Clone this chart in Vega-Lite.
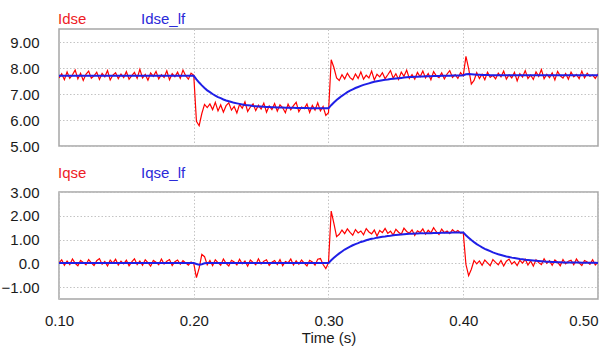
{
"$schema":"https://vega.github.io/schema/vega-lite/v6.json",
"padding":{"left":0,"top":3,"right":0,"bottom":0},
"config":{"view":{"stroke":"#a6a6a6","strokeWidth":1.5},
"axis":{"labelFont":"Liberation Sans","labelFontSize":15,"labelColor":"#1a1a1a","ticks":false,"domain":false,"gridColor":"#c4c4c4","gridDash":[1.5,2],"gridWidth":1,"titleFont":"Liberation Sans","titleFontSize":15,"titleFontWeight":"normal","titleColor":"#1a1a1a"},
"legend":{"orient":"none","legendX":-16,"legendY":-25,"direction":"horizontal","title":null,"symbolSize":0,"symbolStrokeWidth":0,"symbolOpacity":0,"labelOffset":0,"columnPadding":39,"labelFontSize":15,"labelFont":"Liberation Sans","labelBaseline":"top"},
"concat":{"spacing":2}},
"datasets":{"w":[
{"t":0.100,"Idse":7.62,"Idse_lf":7.70,"Iqse":0.02,"Iqse_lf":0.01},
{"t":0.102,"Idse":7.78,"Idse_lf":7.70,"Iqse":0.15,"Iqse_lf":0.01},
{"t":0.104,"Idse":7.55,"Idse_lf":7.70,"Iqse":-0.08,"Iqse_lf":0.01},
{"t":0.106,"Idse":7.85,"Idse_lf":7.70,"Iqse":0.10,"Iqse_lf":0.01},
{"t":0.108,"Idse":7.60,"Idse_lf":7.70,"Iqse":-0.05,"Iqse_lf":0.01},
{"t":0.110,"Idse":7.74,"Idse_lf":7.70,"Iqse":0.18,"Iqse_lf":0.01},
{"t":0.112,"Idse":7.92,"Idse_lf":7.70,"Iqse":0.00,"Iqse_lf":0.01},
{"t":0.114,"Idse":7.58,"Idse_lf":7.70,"Iqse":-0.10,"Iqse_lf":0.01},
{"t":0.116,"Idse":7.80,"Idse_lf":7.70,"Iqse":0.12,"Iqse_lf":0.01},
{"t":0.118,"Idse":7.52,"Idse_lf":7.70,"Iqse":0.04,"Iqse_lf":0.01},
{"t":0.120,"Idse":7.76,"Idse_lf":7.70,"Iqse":-0.06,"Iqse_lf":0.01},
{"t":0.122,"Idse":7.88,"Idse_lf":7.70,"Iqse":0.16,"Iqse_lf":0.01},
{"t":0.124,"Idse":7.61,"Idse_lf":7.70,"Iqse":0.02,"Iqse_lf":0.01},
{"t":0.126,"Idse":7.70,"Idse_lf":7.70,"Iqse":-0.09,"Iqse_lf":0.01},
{"t":0.128,"Idse":7.84,"Idse_lf":7.70,"Iqse":0.11,"Iqse_lf":0.01},
{"t":0.130,"Idse":7.56,"Idse_lf":7.70,"Iqse":0.20,"Iqse_lf":0.01},
{"t":0.132,"Idse":7.79,"Idse_lf":7.70,"Iqse":-0.04,"Iqse_lf":0.01},
{"t":0.134,"Idse":7.66,"Idse_lf":7.70,"Iqse":0.08,"Iqse_lf":0.01},
{"t":0.136,"Idse":7.90,"Idse_lf":7.70,"Iqse":-0.11,"Iqse_lf":0.01},
{"t":0.138,"Idse":7.54,"Idse_lf":7.70,"Iqse":0.14,"Iqse_lf":0.01},
{"t":0.140,"Idse":7.73,"Idse_lf":7.70,"Iqse":0.01,"Iqse_lf":0.01},
{"t":0.142,"Idse":7.82,"Idse_lf":7.70,"Iqse":0.17,"Iqse_lf":0.01},
{"t":0.144,"Idse":7.59,"Idse_lf":7.70,"Iqse":-0.07,"Iqse_lf":0.01},
{"t":0.146,"Idse":7.77,"Idse_lf":7.70,"Iqse":0.09,"Iqse_lf":0.01},
{"t":0.148,"Idse":7.63,"Idse_lf":7.70,"Iqse":-0.02,"Iqse_lf":0.01},
{"t":0.150,"Idse":7.86,"Idse_lf":7.70,"Iqse":0.13,"Iqse_lf":0.01},
{"t":0.152,"Idse":7.57,"Idse_lf":7.70,"Iqse":-0.10,"Iqse_lf":0.01},
{"t":0.154,"Idse":7.71,"Idse_lf":7.70,"Iqse":0.06,"Iqse_lf":0.01},
{"t":0.156,"Idse":7.83,"Idse_lf":7.70,"Iqse":0.19,"Iqse_lf":0.01},
{"t":0.158,"Idse":7.60,"Idse_lf":7.70,"Iqse":-0.05,"Iqse_lf":0.01},
{"t":0.160,"Idse":7.95,"Idse_lf":7.70,"Iqse":0.10,"Iqse_lf":0.01},
{"t":0.162,"Idse":7.62,"Idse_lf":7.70,"Iqse":-0.08,"Iqse_lf":0.01},
{"t":0.164,"Idse":7.75,"Idse_lf":7.70,"Iqse":0.15,"Iqse_lf":0.01},
{"t":0.166,"Idse":7.53,"Idse_lf":7.70,"Iqse":0.03,"Iqse_lf":0.01},
{"t":0.168,"Idse":7.81,"Idse_lf":7.70,"Iqse":-0.12,"Iqse_lf":0.01},
{"t":0.170,"Idse":7.68,"Idse_lf":7.70,"Iqse":0.12,"Iqse_lf":0.01},
{"t":0.172,"Idse":7.87,"Idse_lf":7.70,"Iqse":0.05,"Iqse_lf":0.01},
{"t":0.174,"Idse":7.58,"Idse_lf":7.70,"Iqse":-0.06,"Iqse_lf":0.01},
{"t":0.176,"Idse":7.74,"Idse_lf":7.70,"Iqse":0.18,"Iqse_lf":0.01},
{"t":0.178,"Idse":7.64,"Idse_lf":7.70,"Iqse":-0.03,"Iqse_lf":0.01},
{"t":0.180,"Idse":7.89,"Idse_lf":7.70,"Iqse":0.09,"Iqse_lf":0.01},
{"t":0.182,"Idse":7.55,"Idse_lf":7.70,"Iqse":0.16,"Iqse_lf":0.01},
{"t":0.184,"Idse":7.78,"Idse_lf":7.70,"Iqse":-0.09,"Iqse_lf":0.01},
{"t":0.186,"Idse":7.66,"Idse_lf":7.70,"Iqse":0.07,"Iqse_lf":0.01},
{"t":0.188,"Idse":7.84,"Idse_lf":7.70,"Iqse":0.14,"Iqse_lf":0.01},
{"t":0.190,"Idse":7.60,"Idse_lf":7.70,"Iqse":-0.04,"Iqse_lf":0.01},
{"t":0.192,"Idse":7.92,"Idse_lf":7.70,"Iqse":0.11,"Iqse_lf":0.01},
{"t":0.194,"Idse":7.70,"Idse_lf":7.70,"Iqse":0.02,"Iqse_lf":0.01},
{"t":0.196,"Idse":7.57,"Idse_lf":7.70,"Iqse":-0.08,"Iqse_lf":0.01},
{"t":0.198,"Idse":7.80,"Idse_lf":7.70,"Iqse":0.06,"Iqse_lf":0.01},
{"t":0.200,"Idse":7.72,"Idse_lf":7.70,"Iqse":0.00,"Iqse_lf":0.01},
{"t":0.202,"Idse":5.95,"Idse_lf":7.56,"Iqse":-0.60,"Iqse_lf":-0.03},
{"t":0.204,"Idse":5.78,"Idse_lf":7.44,"Iqse":-0.20,"Iqse_lf":-0.06},
{"t":0.206,"Idse":6.25,"Idse_lf":7.33,"Iqse":0.38,"Iqse_lf":-0.04},
{"t":0.208,"Idse":6.60,"Idse_lf":7.23,"Iqse":0.28,"Iqse_lf":0.00},
{"t":0.210,"Idse":6.48,"Idse_lf":7.14,"Iqse":-0.06,"Iqse_lf":0.01},
{"t":0.212,"Idse":6.62,"Idse_lf":7.07,"Iqse":0.12,"Iqse_lf":0.01},
{"t":0.214,"Idse":6.40,"Idse_lf":7.00,"Iqse":-0.10,"Iqse_lf":0.01},
{"t":0.216,"Idse":6.68,"Idse_lf":6.94,"Iqse":0.15,"Iqse_lf":0.01},
{"t":0.218,"Idse":6.35,"Idse_lf":6.88,"Iqse":0.03,"Iqse_lf":0.01},
{"t":0.220,"Idse":6.58,"Idse_lf":6.84,"Iqse":-0.08,"Iqse_lf":0.01},
{"t":0.222,"Idse":6.30,"Idse_lf":6.79,"Iqse":0.18,"Iqse_lf":0.01},
{"t":0.224,"Idse":6.55,"Idse_lf":6.75,"Iqse":0.00,"Iqse_lf":0.01},
{"t":0.226,"Idse":6.66,"Idse_lf":6.72,"Iqse":-0.11,"Iqse_lf":0.01},
{"t":0.228,"Idse":6.38,"Idse_lf":6.69,"Iqse":0.13,"Iqse_lf":0.01},
{"t":0.230,"Idse":6.52,"Idse_lf":6.66,"Iqse":0.06,"Iqse_lf":0.01},
{"t":0.232,"Idse":6.27,"Idse_lf":6.64,"Iqse":-0.07,"Iqse_lf":0.01},
{"t":0.234,"Idse":6.60,"Idse_lf":6.62,"Iqse":0.17,"Iqse_lf":0.01},
{"t":0.236,"Idse":6.45,"Idse_lf":6.60,"Iqse":-0.02,"Iqse_lf":0.01},
{"t":0.238,"Idse":6.70,"Idse_lf":6.58,"Iqse":0.10,"Iqse_lf":0.01},
{"t":0.240,"Idse":6.33,"Idse_lf":6.57,"Iqse":-0.12,"Iqse_lf":0.01},
{"t":0.242,"Idse":6.50,"Idse_lf":6.56,"Iqse":0.14,"Iqse_lf":0.01},
{"t":0.244,"Idse":6.62,"Idse_lf":6.54,"Iqse":0.04,"Iqse_lf":0.01},
{"t":0.246,"Idse":6.36,"Idse_lf":6.53,"Iqse":-0.06,"Iqse_lf":0.01},
{"t":0.248,"Idse":6.57,"Idse_lf":6.52,"Iqse":0.19,"Iqse_lf":0.01},
{"t":0.250,"Idse":6.42,"Idse_lf":6.52,"Iqse":-0.03,"Iqse_lf":0.01},
{"t":0.252,"Idse":6.65,"Idse_lf":6.51,"Iqse":0.09,"Iqse_lf":0.01},
{"t":0.254,"Idse":6.30,"Idse_lf":6.50,"Iqse":0.15,"Iqse_lf":0.01},
{"t":0.256,"Idse":6.54,"Idse_lf":6.50,"Iqse":-0.09,"Iqse_lf":0.01},
{"t":0.258,"Idse":6.40,"Idse_lf":6.49,"Iqse":0.05,"Iqse_lf":0.01},
{"t":0.260,"Idse":6.63,"Idse_lf":6.49,"Iqse":0.12,"Iqse_lf":0.01},
{"t":0.262,"Idse":6.34,"Idse_lf":6.48,"Iqse":-0.05,"Iqse_lf":0.01},
{"t":0.264,"Idse":6.58,"Idse_lf":6.48,"Iqse":0.16,"Iqse_lf":0.01},
{"t":0.266,"Idse":6.47,"Idse_lf":6.48,"Iqse":-0.10,"Iqse_lf":0.01},
{"t":0.268,"Idse":6.28,"Idse_lf":6.47,"Iqse":0.08,"Iqse_lf":0.01},
{"t":0.270,"Idse":6.61,"Idse_lf":6.47,"Iqse":0.02,"Iqse_lf":0.01},
{"t":0.272,"Idse":6.39,"Idse_lf":6.47,"Iqse":0.18,"Iqse_lf":0.01},
{"t":0.274,"Idse":6.55,"Idse_lf":6.47,"Iqse":-0.07,"Iqse_lf":0.01},
{"t":0.276,"Idse":6.68,"Idse_lf":6.46,"Iqse":0.11,"Iqse_lf":0.01},
{"t":0.278,"Idse":6.32,"Idse_lf":6.46,"Iqse":-0.04,"Iqse_lf":0.01},
{"t":0.280,"Idse":6.50,"Idse_lf":6.46,"Iqse":0.14,"Iqse_lf":0.01},
{"t":0.282,"Idse":6.44,"Idse_lf":6.46,"Iqse":0.01,"Iqse_lf":0.01},
{"t":0.284,"Idse":6.62,"Idse_lf":6.46,"Iqse":-0.11,"Iqse_lf":0.01},
{"t":0.286,"Idse":6.29,"Idse_lf":6.45,"Iqse":0.13,"Iqse_lf":0.01},
{"t":0.288,"Idse":6.56,"Idse_lf":6.45,"Iqse":0.06,"Iqse_lf":0.01},
{"t":0.290,"Idse":6.38,"Idse_lf":6.45,"Iqse":-0.08,"Iqse_lf":0.01},
{"t":0.292,"Idse":6.66,"Idse_lf":6.45,"Iqse":0.17,"Iqse_lf":0.01},
{"t":0.294,"Idse":6.35,"Idse_lf":6.45,"Iqse":0.20,"Iqse_lf":0.01},
{"t":0.296,"Idse":6.52,"Idse_lf":6.45,"Iqse":-0.05,"Iqse_lf":0.01},
{"t":0.298,"Idse":6.18,"Idse_lf":6.45,"Iqse":-0.22,"Iqse_lf":0.01},
{"t":0.300,"Idse":6.28,"Idse_lf":6.45,"Iqse":0.02,"Iqse_lf":0.01},
{"t":0.302,"Idse":8.32,"Idse_lf":6.57,"Iqse":2.20,"Iqse_lf":0.13},
{"t":0.304,"Idse":8.02,"Idse_lf":6.67,"Iqse":1.68,"Iqse_lf":0.23},
{"t":0.306,"Idse":7.62,"Idse_lf":6.77,"Iqse":1.12,"Iqse_lf":0.33},
{"t":0.308,"Idse":7.52,"Idse_lf":6.85,"Iqse":1.22,"Iqse_lf":0.42},
{"t":0.310,"Idse":7.74,"Idse_lf":6.93,"Iqse":1.40,"Iqse_lf":0.50},
{"t":0.312,"Idse":7.58,"Idse_lf":7.00,"Iqse":1.25,"Iqse_lf":0.58},
{"t":0.314,"Idse":7.80,"Idse_lf":7.07,"Iqse":1.45,"Iqse_lf":0.64},
{"t":0.316,"Idse":7.63,"Idse_lf":7.13,"Iqse":1.30,"Iqse_lf":0.70},
{"t":0.318,"Idse":7.55,"Idse_lf":7.18,"Iqse":1.18,"Iqse_lf":0.76},
{"t":0.320,"Idse":7.77,"Idse_lf":7.23,"Iqse":1.42,"Iqse_lf":0.81},
{"t":0.322,"Idse":7.60,"Idse_lf":7.27,"Iqse":1.28,"Iqse_lf":0.85},
{"t":0.324,"Idse":7.85,"Idse_lf":7.31,"Iqse":1.36,"Iqse_lf":0.90},
{"t":0.326,"Idse":7.57,"Idse_lf":7.35,"Iqse":1.20,"Iqse_lf":0.93},
{"t":0.328,"Idse":7.72,"Idse_lf":7.38,"Iqse":1.46,"Iqse_lf":0.97},
{"t":0.330,"Idse":7.62,"Idse_lf":7.41,"Iqse":1.32,"Iqse_lf":1.00},
{"t":0.332,"Idse":7.88,"Idse_lf":7.44,"Iqse":1.24,"Iqse_lf":1.03},
{"t":0.334,"Idse":7.54,"Idse_lf":7.47,"Iqse":1.40,"Iqse_lf":1.05},
{"t":0.336,"Idse":7.76,"Idse_lf":7.49,"Iqse":1.15,"Iqse_lf":1.08},
{"t":0.338,"Idse":7.66,"Idse_lf":7.51,"Iqse":1.38,"Iqse_lf":1.10},
{"t":0.340,"Idse":7.82,"Idse_lf":7.53,"Iqse":1.29,"Iqse_lf":1.12},
{"t":0.342,"Idse":7.59,"Idse_lf":7.55,"Iqse":1.47,"Iqse_lf":1.13},
{"t":0.344,"Idse":7.74,"Idse_lf":7.56,"Iqse":1.26,"Iqse_lf":1.15},
{"t":0.346,"Idse":7.90,"Idse_lf":7.58,"Iqse":1.35,"Iqse_lf":1.16},
{"t":0.348,"Idse":7.61,"Idse_lf":7.59,"Iqse":1.19,"Iqse_lf":1.18},
{"t":0.350,"Idse":7.78,"Idse_lf":7.60,"Iqse":1.43,"Iqse_lf":1.19},
{"t":0.352,"Idse":7.56,"Idse_lf":7.61,"Iqse":1.31,"Iqse_lf":1.20},
{"t":0.354,"Idse":7.84,"Idse_lf":7.62,"Iqse":1.22,"Iqse_lf":1.21},
{"t":0.356,"Idse":7.68,"Idse_lf":7.63,"Iqse":1.48,"Iqse_lf":1.22},
{"t":0.358,"Idse":7.92,"Idse_lf":7.64,"Iqse":1.34,"Iqse_lf":1.23},
{"t":0.360,"Idse":7.60,"Idse_lf":7.65,"Iqse":1.27,"Iqse_lf":1.24},
{"t":0.362,"Idse":7.75,"Idse_lf":7.65,"Iqse":1.41,"Iqse_lf":1.24},
{"t":0.364,"Idse":7.57,"Idse_lf":7.66,"Iqse":1.17,"Iqse_lf":1.25},
{"t":0.366,"Idse":7.83,"Idse_lf":7.66,"Iqse":1.37,"Iqse_lf":1.25},
{"t":0.368,"Idse":7.66,"Idse_lf":7.67,"Iqse":1.30,"Iqse_lf":1.26},
{"t":0.370,"Idse":7.88,"Idse_lf":7.67,"Iqse":1.45,"Iqse_lf":1.26},
{"t":0.372,"Idse":7.62,"Idse_lf":7.68,"Iqse":1.23,"Iqse_lf":1.27},
{"t":0.374,"Idse":7.79,"Idse_lf":7.68,"Iqse":1.39,"Iqse_lf":1.27},
{"t":0.376,"Idse":7.55,"Idse_lf":7.68,"Iqse":1.28,"Iqse_lf":1.27},
{"t":0.378,"Idse":7.86,"Idse_lf":7.69,"Iqse":1.50,"Iqse_lf":1.28},
{"t":0.380,"Idse":7.70,"Idse_lf":7.69,"Iqse":1.33,"Iqse_lf":1.28},
{"t":0.382,"Idse":7.63,"Idse_lf":7.69,"Iqse":1.21,"Iqse_lf":1.28},
{"t":0.384,"Idse":7.81,"Idse_lf":7.70,"Iqse":1.44,"Iqse_lf":1.29},
{"t":0.386,"Idse":7.58,"Idse_lf":7.70,"Iqse":1.29,"Iqse_lf":1.29},
{"t":0.388,"Idse":7.77,"Idse_lf":7.70,"Iqse":1.36,"Iqse_lf":1.29},
{"t":0.390,"Idse":7.90,"Idse_lf":7.70,"Iqse":1.25,"Iqse_lf":1.29},
{"t":0.392,"Idse":7.64,"Idse_lf":7.71,"Iqse":1.42,"Iqse_lf":1.30},
{"t":0.394,"Idse":7.74,"Idse_lf":7.71,"Iqse":1.31,"Iqse_lf":1.30},
{"t":0.396,"Idse":7.60,"Idse_lf":7.71,"Iqse":1.38,"Iqse_lf":1.30},
{"t":0.398,"Idse":7.82,"Idse_lf":7.71,"Iqse":1.27,"Iqse_lf":1.30},
{"t":0.400,"Idse":7.70,"Idse_lf":7.72,"Iqse":1.30,"Iqse_lf":1.30},
{"t":0.402,"Idse":8.45,"Idse_lf":7.76,"Iqse":-0.05,"Iqse_lf":1.18},
{"t":0.404,"Idse":7.98,"Idse_lf":7.77,"Iqse":-0.52,"Iqse_lf":1.08},
{"t":0.406,"Idse":7.38,"Idse_lf":7.76,"Iqse":-0.25,"Iqse_lf":0.98},
{"t":0.408,"Idse":7.52,"Idse_lf":7.75,"Iqse":0.12,"Iqse_lf":0.89},
{"t":0.410,"Idse":7.82,"Idse_lf":7.74,"Iqse":-0.02,"Iqse_lf":0.81},
{"t":0.412,"Idse":7.60,"Idse_lf":7.74,"Iqse":0.10,"Iqse_lf":0.74},
{"t":0.414,"Idse":7.76,"Idse_lf":7.73,"Iqse":-0.08,"Iqse_lf":0.67},
{"t":0.416,"Idse":7.55,"Idse_lf":7.73,"Iqse":0.14,"Iqse_lf":0.61},
{"t":0.418,"Idse":7.84,"Idse_lf":7.73,"Iqse":0.02,"Iqse_lf":0.56},
{"t":0.420,"Idse":7.64,"Idse_lf":7.72,"Iqse":-0.10,"Iqse_lf":0.51},
{"t":0.422,"Idse":7.72,"Idse_lf":7.72,"Iqse":0.16,"Iqse_lf":0.46},
{"t":0.424,"Idse":7.58,"Idse_lf":7.72,"Iqse":0.04,"Iqse_lf":0.42},
{"t":0.426,"Idse":7.80,"Idse_lf":7.72,"Iqse":-0.06,"Iqse_lf":0.38},
{"t":0.428,"Idse":7.66,"Idse_lf":7.72,"Iqse":0.12,"Iqse_lf":0.35},
{"t":0.430,"Idse":7.88,"Idse_lf":7.72,"Iqse":-0.11,"Iqse_lf":0.32},
{"t":0.432,"Idse":7.57,"Idse_lf":7.72,"Iqse":0.09,"Iqse_lf":0.29},
{"t":0.434,"Idse":7.74,"Idse_lf":7.72,"Iqse":0.18,"Iqse_lf":0.27},
{"t":0.436,"Idse":7.62,"Idse_lf":7.72,"Iqse":-0.03,"Iqse_lf":0.24},
{"t":0.438,"Idse":7.83,"Idse_lf":7.72,"Iqse":0.07,"Iqse_lf":0.22},
{"t":0.440,"Idse":7.50,"Idse_lf":7.72,"Iqse":-0.09,"Iqse_lf":0.20},
{"t":0.442,"Idse":7.78,"Idse_lf":7.72,"Iqse":0.13,"Iqse_lf":0.18},
{"t":0.444,"Idse":7.65,"Idse_lf":7.72,"Iqse":0.01,"Iqse_lf":0.17},
{"t":0.446,"Idse":7.90,"Idse_lf":7.72,"Iqse":0.17,"Iqse_lf":0.15},
{"t":0.448,"Idse":7.60,"Idse_lf":7.72,"Iqse":-0.07,"Iqse_lf":0.14},
{"t":0.450,"Idse":7.73,"Idse_lf":7.72,"Iqse":0.10,"Iqse_lf":0.13},
{"t":0.452,"Idse":7.56,"Idse_lf":7.72,"Iqse":-0.12,"Iqse_lf":0.12},
{"t":0.454,"Idse":7.85,"Idse_lf":7.72,"Iqse":0.15,"Iqse_lf":0.11},
{"t":0.456,"Idse":7.68,"Idse_lf":7.72,"Iqse":0.03,"Iqse_lf":0.10},
{"t":0.458,"Idse":7.94,"Idse_lf":7.72,"Iqse":-0.05,"Iqse_lf":0.09},
{"t":0.460,"Idse":7.59,"Idse_lf":7.72,"Iqse":0.19,"Iqse_lf":0.08},
{"t":0.462,"Idse":7.76,"Idse_lf":7.72,"Iqse":0.00,"Iqse_lf":0.07},
{"t":0.464,"Idse":7.63,"Idse_lf":7.72,"Iqse":0.11,"Iqse_lf":0.07},
{"t":0.466,"Idse":7.81,"Idse_lf":7.72,"Iqse":-0.08,"Iqse_lf":0.06},
{"t":0.468,"Idse":7.54,"Idse_lf":7.72,"Iqse":0.14,"Iqse_lf":0.06},
{"t":0.470,"Idse":7.87,"Idse_lf":7.72,"Iqse":0.05,"Iqse_lf":0.05},
{"t":0.472,"Idse":7.70,"Idse_lf":7.72,"Iqse":-0.10,"Iqse_lf":0.05},
{"t":0.474,"Idse":7.61,"Idse_lf":7.72,"Iqse":0.16,"Iqse_lf":0.04},
{"t":0.476,"Idse":7.79,"Idse_lf":7.72,"Iqse":-0.02,"Iqse_lf":0.04},
{"t":0.478,"Idse":7.57,"Idse_lf":7.72,"Iqse":0.09,"Iqse_lf":0.04},
{"t":0.480,"Idse":7.84,"Idse_lf":7.72,"Iqse":0.13,"Iqse_lf":0.03},
{"t":0.482,"Idse":7.66,"Idse_lf":7.72,"Iqse":-0.06,"Iqse_lf":0.03},
{"t":0.484,"Idse":7.75,"Idse_lf":7.72,"Iqse":0.18,"Iqse_lf":0.03},
{"t":0.486,"Idse":7.59,"Idse_lf":7.72,"Iqse":0.02,"Iqse_lf":0.03},
{"t":0.488,"Idse":7.88,"Idse_lf":7.72,"Iqse":-0.09,"Iqse_lf":0.02},
{"t":0.490,"Idse":7.62,"Idse_lf":7.72,"Iqse":0.12,"Iqse_lf":0.02},
{"t":0.492,"Idse":7.80,"Idse_lf":7.72,"Iqse":0.06,"Iqse_lf":0.02},
{"t":0.494,"Idse":7.68,"Idse_lf":7.72,"Iqse":-0.04,"Iqse_lf":0.02},
{"t":0.496,"Idse":7.73,"Idse_lf":7.72,"Iqse":0.15,"Iqse_lf":0.02},
{"t":0.498,"Idse":7.60,"Idse_lf":7.72,"Iqse":-0.07,"Iqse_lf":0.02},
{"t":0.500,"Idse":7.78,"Idse_lf":7.72,"Iqse":0.05,"Iqse_lf":0.01}
]},
"vconcat":[
{"data":{"name":"w"},
"transform":[{"fold":["Idse","Idse_lf"],"as":["series","value"]}],
"width":539,"height":117,
"mark":{"type":"line","clip":true},
"encoding":{
"x":{"field":"t","type":"quantitative","scale":{"domain":[0.1,0.5],"nice":false,"zero":false},"axis":{"values":[0.2,0.3,0.4],"labels":false,"title":null}},
"y":{"field":"value","type":"quantitative","scale":{"domain":[5,9.5],"nice":false,"zero":false},"axis":{"values":[5,6,7,8,9],"format":".2f","labelPadding":20,"title":null}},
"color":{"field":"series","type":"nominal","scale":{"domain":["Idse","Idse_lf"],"range":["#ff0000","#1f1fe6"]},"legend":{"encode":{"labels":{"update":{"fill":{"signal":"datum.label == 'Idse' ? '#ee1c25' : '#2a2ad8'"}}}}}},
"strokeWidth":{"field":"series","type":"nominal","scale":{"domain":["Idse","Idse_lf"],"range":[1.2,2]},"legend":null}
}},
{"data":{"name":"w"},
"transform":[{"fold":["Iqse","Iqse_lf"],"as":["series","value"]}],
"width":539,"height":107,
"mark":{"type":"line","clip":true},
"encoding":{
"x":{"field":"t","type":"quantitative","scale":{"domain":[0.1,0.5],"nice":false,"zero":false},"axis":{"values":[0.1,0.2,0.3,0.4,0.5],"format":".2f","labelPadding":14,"title":"Time (s)","titlePadding":2,"labelAlign":{"condition":{"test":"datum.value >= 0.5","value":"right"},"value":"center"}}},
"y":{"field":"value","type":"quantitative","scale":{"domain":[-1.5,3],"nice":false,"zero":false},"axis":{"values":[-1,0,1,2,3],"labelExpr":"datum.value == 0 ? '0.0' : format(datum.value, '.2f')","labelPadding":20,"title":null}},
"color":{"field":"series","type":"nominal","scale":{"domain":["Iqse","Iqse_lf"],"range":["#ff0000","#1f1fe6"]},"legend":{"legendY":-34,"encode":{"labels":{"update":{"fill":{"signal":"datum.label == 'Iqse' ? '#ee1c25' : '#2a2ad8'"}}}}}},
"strokeWidth":{"field":"series","type":"nominal","scale":{"domain":["Iqse","Iqse_lf"],"range":[1.2,2]},"legend":null}
}}
],
"resolve":{"scale":{"color":"independent","strokeWidth":"independent"}}
}
